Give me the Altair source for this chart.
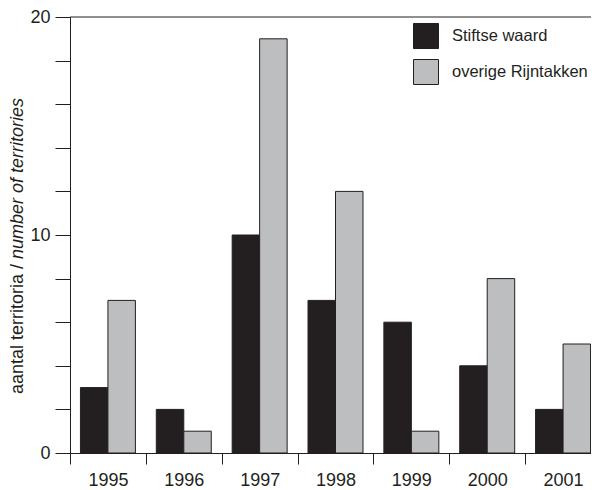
import altair as alt
import pandas as pd

years = ["1995", "1996", "1997", "1998", "1999", "2000", "2001"]
stiftse = [3, 2, 10, 7, 6, 4, 2]
overige = [7, 1, 19, 12, 1, 8, 5]
series = ["Stiftse waard", "overige Rijntakken"]
colors = ["#231f20", "#bcbec0"]
y_ticks = [0, 2, 4, 6, 8, 10, 12, 14, 16, 18, 20]
title_normal = "aantal territoria / "
title_italic = "number of territories"

rows = []
for i, yr in enumerate(years):
    rows.append({"jaar": yr, "reeks": series[0], "aantal": stiftse[i]})
    rows.append({"jaar": yr, "reeks": series[1], "aantal": overige[i]})
df = pd.DataFrame(rows)

W, H = 531, 436
dark = "#231f20"
FONT = "Liberation Sans"

yscale = alt.Scale(domain=[0, 20], nice=False, zero=True)

bars = alt.Chart(df).mark_bar(stroke=dark, strokeWidth=1).encode(
    x=alt.X("jaar:N", sort=years,
            scale=alt.Scale(paddingInner=0, paddingOuter=0),
            axis=alt.Axis(title=None, tickBand="extent", tickSize=11, labelPadding=7,
                          labelFontSize=18, labelAngle=0, domainColor=dark, tickColor=dark,
                          labelColor=dark, labelFont=FONT, domainWidth=1, tickWidth=1)),
    xOffset=alt.XOffset("reeks:N", sort=series,
                        scale=alt.Scale(paddingOuter=0.38, paddingInner=0)),
    y=alt.Y("aantal:Q", scale=yscale,
            axis=alt.Axis(title=None, values=y_ticks, tickSize=15, labelPadding=5,
                          labelExpr="datum.value % 10 == 0 ? datum.label : ''",
                          grid=False, labelFontSize=18, labelFont=FONT, labelColor=dark,
                          domainColor=dark, tickColor=dark, domainWidth=1, tickWidth=1)),
    color=alt.Color("reeks:N", sort=series,
                    scale=alt.Scale(domain=series, range=colors),
                    legend=alt.Legend(title=None, orient="none", legendX=343, legendY=6,
                                      symbolType="square", symbolSize=625,
                                      symbolStrokeColor=dark, symbolStrokeWidth=1,
                                      symbolOpacity=1, labelFontSize=16.5, labelFont=FONT,
                                      labelColor=dark, rowPadding=6, labelOffset=13,
                                      padding=0)),
)

top_rule = alt.Chart(pd.DataFrame({"v": [20]})).mark_rule(color=dark, strokeWidth=1).encode(
    y=alt.Y("v:Q", scale=yscale)
)

t1 = alt.Chart(pd.DataFrame({"t": [title_normal]})).mark_text(
    angle=270, align="left", baseline="alphabetic", fontSize=18, font=FONT, color=dark
).encode(x=alt.value(-47), y=alt.value(377), text="t:N")

t2 = alt.Chart(pd.DataFrame({"t": [title_italic]})).mark_text(
    angle=270, align="left", baseline="alphabetic", fontSize=18, font=FONT, color=dark,
    fontStyle="italic"
).encode(x=alt.value(-47), y=alt.value(242), text="t:N")

chart = alt.layer(bars, top_rule, t1, t2).properties(
    width=W, height=H,
    autosize=alt.AutoSizeParams(type="none"),
    padding={"left": 62, "top": 9, "right": -10, "bottom": 36},
).configure_view(stroke=None)

chart.save("out.html", embed_options={"renderer": "svg", "actions": False})
